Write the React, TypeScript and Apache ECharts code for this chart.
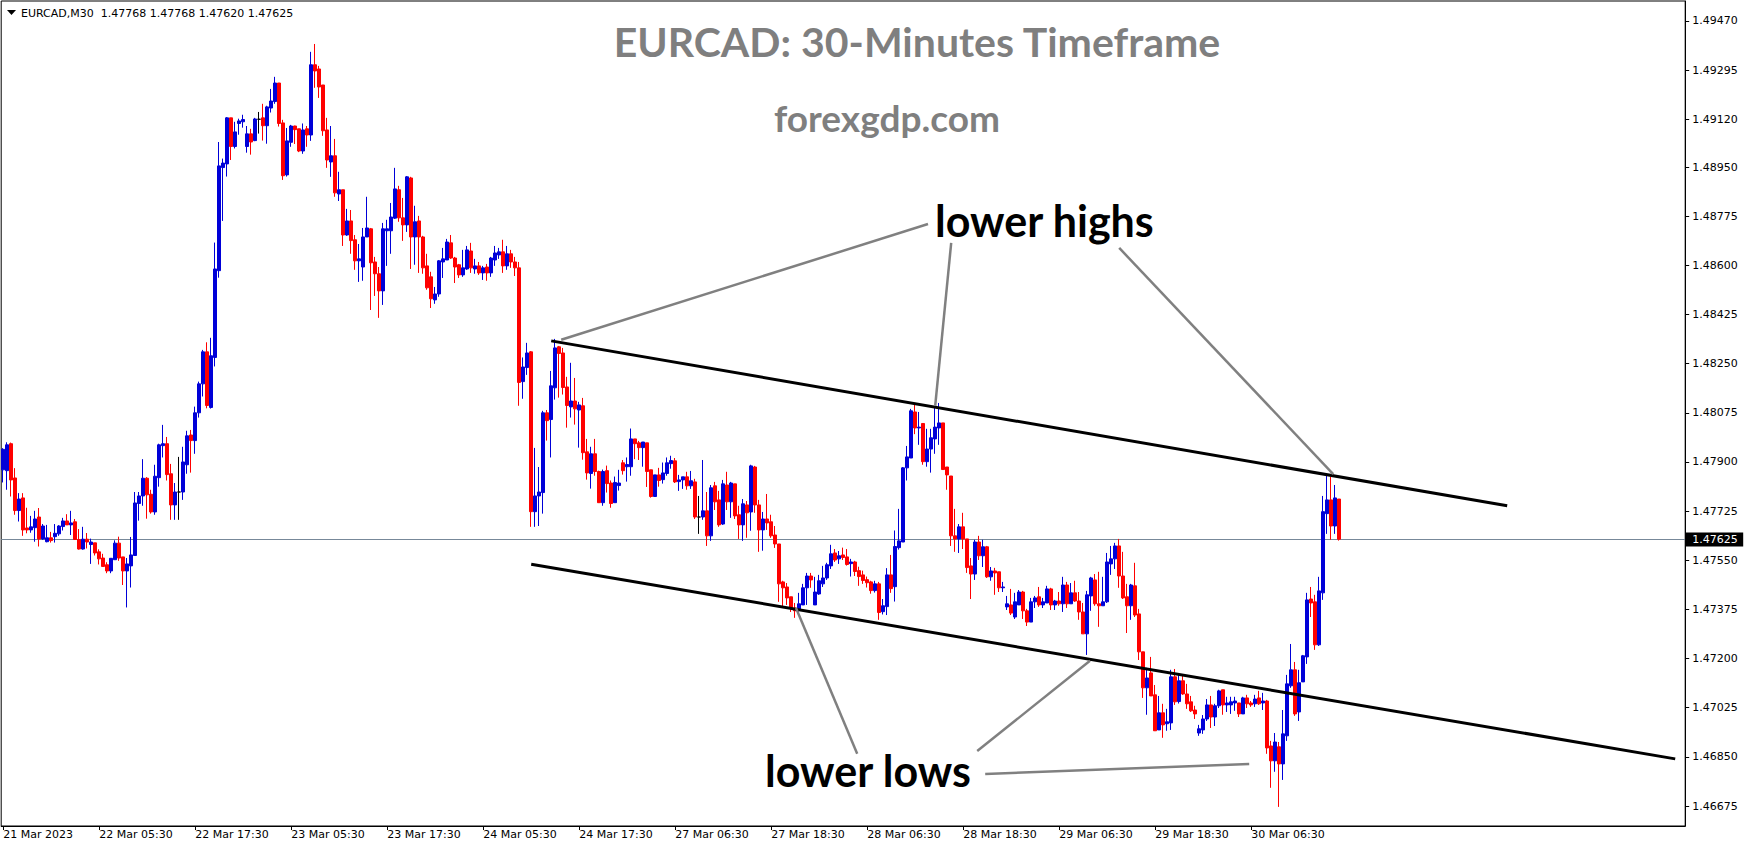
import React, { useEffect, useRef } from "react";
import * as echarts from "echarts";

// ---- data ----
const timeLabels = [
  "21 Mar 2023", "22 Mar 05:30", "22 Mar 17:30", "23 Mar 05:30", "23 Mar 17:30",
  "24 Mar 05:30", "24 Mar 17:30", "27 Mar 06:30", "27 Mar 18:30", "28 Mar 06:30",
  "28 Mar 18:30", "29 Mar 06:30", "29 Mar 18:30", "30 Mar 06:30",
];
const barsPerTimeLabel = 24;
const totalSlots = 421; // visible bar slots incl. empty space on the right

const opens = [
  1.47872,1.47869,1.47965,1.47843,1.47727,1.47772,1.47665,1.47658,1.47666,1.47704,
  1.47626,1.47616,1.47630,1.47634,1.47644,1.47670,1.47690,1.47676,1.47687,1.47624,
  1.47590,1.47625,1.47606,1.47612,1.47580,1.47558,1.47534,1.47512,1.47552,1.47611,
  1.47562,1.47512,1.47530,1.47567,1.47752,1.47779,1.47842,1.47785,1.47722,1.47844,
  1.47958,1.47965,1.47858,1.47747,1.47793,1.47793,1.47890,1.47996,1.47976,1.48075,
  1.48178,1.48292,1.48094,1.48272,1.48581,1.48948,1.48961,1.49125,1.49023,1.49105,
  1.49111,1.49023,1.49068,1.49044,1.49120,1.49125,1.49097,1.49160,1.49183,1.49249,
  1.49107,1.48922,1.49038,1.49096,1.49086,1.49007,1.49086,1.49064,1.49314,1.49299,
  1.49242,1.49082,1.48968,1.48990,1.48854,1.48869,1.48708,1.48758,1.48691,1.48616,
  1.48594,1.48701,1.48730,1.48612,1.48570,1.48509,1.48723,1.48723,1.48768,1.48869,
  1.48769,1.48744,1.48911,1.48701,1.48758,1.48701,1.48598,1.48559,1.48477,1.48498,
  1.48612,1.48619,1.48680,1.48626,1.48602,1.48566,1.48587,1.48651,1.48587,1.48598,
  1.48573,1.48594,1.48573,1.48619,1.48637,1.48648,1.48598,1.48641,1.48612,1.48591,
  1.48186,1.48236,1.48292,1.47723,1.47779,1.47791,1.48075,1.48051,1.48164,1.48310,
  1.48288,1.48167,1.48096,1.48117,1.48085,1.48100,1.47936,1.47859,1.47929,1.47866,
  1.47755,1.47869,1.47825,1.47755,1.47816,1.47897,1.47883,1.47883,1.47982,1.47968,
  1.47951,1.47968,1.47872,1.47777,1.47854,1.47837,1.47859,1.47894,1.47904,1.47830,
  1.47836,1.47847,1.47815,1.47829,1.47704,1.47704,1.47726,1.47637,1.47815,1.47765,
  1.47679,1.47818,1.47758,1.47822,1.47712,1.47676,1.47747,1.47722,1.47882,1.47747,
  1.47658,1.47697,1.47687,1.47640,1.47608,1.47473,1.47455,1.47420,1.47380,1.47373,
  1.47391,1.47452,1.47494,1.47391,1.47430,1.47466,1.47487,1.47530,1.47576,1.47555,
  1.47569,1.47562,1.47538,1.47544,1.47513,1.47498,1.47481,1.47473,1.47442,1.47466,
  1.47367,1.47385,1.47498,1.47456,1.47595,1.47615,1.47879,1.47914,1.48078,1.48021,
  1.48037,1.47901,1.47946,1.47982,1.48021,1.48039,1.47882,1.47850,1.47637,1.47626,
  1.47669,1.47626,1.47530,1.47501,1.47615,1.47566,1.47598,1.47491,1.47512,1.47509,
  1.47452,1.47384,1.47391,1.47348,1.47391,1.47437,1.47370,1.47330,1.47402,1.47420,
  1.47391,1.47398,1.47448,1.47391,1.47405,1.47395,1.47462,1.47395,1.47434,1.47405,
  1.47366,1.47288,1.47423,1.47480,1.47395,1.47388,1.47402,1.47537,1.47555,1.47601,
  1.47494,1.47420,1.47388,1.47459,1.47359,1.47224,1.47096,1.47149,1.47071,1.46946,
  1.47007,1.46968,1.46971,1.47135,1.47047,1.47121,1.47074,1.47046,1.47017,1.46935,
  1.46946,1.46985,1.47035,1.46992,1.47032,1.47089,1.47035,1.47035,1.47042,1.47042,
  1.47003,1.47060,1.47042,1.47039,1.47060,1.47042,1.47049,1.46889,1.46836,1.46886,
  1.46825,1.46925,1.47103,1.47160,1.47010,1.47117,1.47206,1.47412,1.47402,1.47249,
  1.47434,1.47716,1.47765,1.47672,1.47768,
];
const highs = [
  1.47949,1.47970,1.47969,1.47878,1.47789,1.47789,1.47737,1.47708,1.47726,1.47736,
  1.47679,1.47676,1.47651,1.47679,1.47675,1.47701,1.47714,1.47726,1.47697,1.47661,
  1.47669,1.47647,1.47627,1.47612,1.47589,1.47573,1.47543,1.47557,1.47621,1.47634,
  1.47562,1.47558,1.47633,1.47793,1.47793,1.47910,1.47846,1.47801,1.47890,1.47965,
  1.48032,1.47989,1.47893,1.47825,1.47918,1.47954,1.48011,1.48014,1.48097,1.48186,
  1.48299,1.48326,1.48342,1.48681,1.49039,1.48980,1.49128,1.49125,1.49111,1.49122,
  1.49136,1.49096,1.49086,1.49125,1.49146,1.49175,1.49168,1.49228,1.49271,1.49249,
  1.49118,1.49089,1.49100,1.49097,1.49086,1.49105,1.49096,1.49360,1.49388,1.49310,
  1.49242,1.49125,1.49096,1.49050,1.48933,1.48869,1.48801,1.48797,1.48708,1.48676,
  1.48733,1.48844,1.48733,1.48630,1.48594,1.48751,1.48762,1.48822,1.48947,1.48883,
  1.48840,1.48918,1.48915,1.48812,1.48776,1.48705,1.48641,1.48577,1.48523,1.48619,
  1.48662,1.48694,1.48708,1.48630,1.48605,1.48655,1.48669,1.48680,1.48623,1.48612,
  1.48598,1.48605,1.48630,1.48669,1.48662,1.48691,1.48669,1.48655,1.48630,1.48612,
  1.48272,1.48324,1.48295,1.47950,1.47882,1.48082,1.48085,1.48224,1.48338,1.48313,
  1.48306,1.48203,1.48253,1.48199,1.48114,1.48128,1.47982,1.47954,1.47982,1.47869,
  1.47873,1.47887,1.47834,1.47848,1.47872,1.47907,1.47916,1.48019,1.47982,1.47975,
  1.47971,1.47968,1.47872,1.47854,1.47879,1.47898,1.47916,1.47922,1.47914,1.47854,
  1.47847,1.47865,1.47868,1.47840,1.47779,1.47907,1.47793,1.47818,1.47829,1.47797,
  1.47836,1.47865,1.47829,1.47822,1.47744,1.47768,1.47761,1.47890,1.47886,1.47765,
  1.47722,1.47786,1.47712,1.47672,1.47608,1.47477,1.47469,1.47420,1.47398,1.47434,
  1.47466,1.47505,1.47505,1.47491,1.47498,1.47530,1.47541,1.47605,1.47590,1.47583,
  1.47595,1.47590,1.47555,1.47548,1.47527,1.47513,1.47492,1.47477,1.47477,1.47473,
  1.47412,1.47522,1.47569,1.47656,1.47733,1.47882,1.47957,1.48089,1.48103,1.48078,
  1.48037,1.48018,1.48018,1.48096,1.48110,1.48039,1.47882,1.47850,1.47733,1.47679,
  1.47719,1.47626,1.47558,1.47623,1.47637,1.47623,1.47601,1.47526,1.47523,1.47509,
  1.47473,1.47423,1.47448,1.47434,1.47444,1.47441,1.47377,1.47416,1.47423,1.47455,
  1.47416,1.47459,1.47452,1.47409,1.47437,1.47491,1.47473,1.47469,1.47477,1.47437,
  1.47398,1.47441,1.47491,1.47501,1.47509,1.47491,1.47576,1.47601,1.47612,1.47626,
  1.47580,1.47466,1.47466,1.47541,1.47377,1.47224,1.47167,1.47206,1.47106,1.47067,
  1.47039,1.47021,1.47160,1.47163,1.47142,1.47138,1.47110,1.47067,1.47032,1.46964,
  1.46999,1.47056,1.47067,1.47039,1.47089,1.47089,1.47064,1.47064,1.47064,1.47042,
  1.47064,1.47071,1.47049,1.47071,1.47085,1.47078,1.47053,1.46907,1.46935,1.46903,
  1.47017,1.47142,1.47252,1.47188,1.47160,1.47213,1.47434,1.47455,1.47427,1.47491,
  1.47779,1.47850,1.47847,1.47818,1.47768,
];
const lows = [
  1.47827,1.47801,1.47777,1.47712,1.47688,1.47637,1.47646,1.47648,1.47616,1.47599,
  1.47623,1.47614,1.47613,1.47613,1.47637,1.47656,1.47676,1.47640,1.47623,1.47588,
  1.47588,1.47592,1.47537,1.47567,1.47535,1.47528,1.47504,1.47504,1.47552,1.47548,
  1.47462,1.47382,1.47453,1.47567,1.47691,1.47744,1.47698,1.47716,1.47712,1.47812,
  1.47916,1.47834,1.47694,1.47694,1.47694,1.47765,1.47858,1.47862,1.47929,1.48058,
  1.48133,1.48091,1.48090,1.48240,1.48556,1.48758,1.48916,1.48975,1.49016,1.49065,
  1.49090,1.49001,1.48994,1.49042,1.49069,1.49044,1.49033,1.49144,1.49175,1.49094,
  1.48904,1.48916,1.49022,1.49032,1.49003,1.48997,1.49022,1.49043,1.49232,1.49196,
  1.49061,1.48947,1.48915,1.48844,1.48829,1.48669,1.48705,1.48641,1.48584,1.48541,
  1.48545,1.48701,1.48441,1.48491,1.48413,1.48459,1.48598,1.48641,1.48765,1.48755,
  1.48687,1.48719,1.48587,1.48602,1.48573,1.48570,1.48513,1.48448,1.48463,1.48488,
  1.48555,1.48619,1.48623,1.48537,1.48555,1.48559,1.48584,1.48573,1.48570,1.48566,
  1.48548,1.48545,1.48559,1.48598,1.48623,1.48573,1.48584,1.48591,1.48562,1.48100,
  1.48125,1.48210,1.47669,1.47669,1.47672,1.47716,1.47976,1.47916,1.48122,1.48129,
  1.48140,1.48022,1.48058,1.48033,1.47951,1.47908,1.47837,1.47805,1.47851,1.47755,
  1.47744,1.47791,1.47737,1.47755,1.47798,1.47855,1.47830,1.47851,1.47910,1.47907,
  1.47883,1.47811,1.47773,1.47777,1.47812,1.47823,1.47851,1.47876,1.47825,1.47797,
  1.47804,1.47801,1.47804,1.47697,1.47644,1.47694,1.47601,1.47619,1.47729,1.47669,
  1.47676,1.47729,1.47701,1.47697,1.47626,1.47619,1.47630,1.47655,1.47719,1.47580,
  1.47584,1.47658,1.47630,1.47594,1.47402,1.47384,1.47391,1.47366,1.47345,1.47355,
  1.47391,1.47391,1.47452,1.47391,1.47427,1.47455,1.47480,1.47519,1.47544,1.47537,
  1.47551,1.47531,1.47492,1.47494,1.47459,1.47466,1.47453,1.47431,1.47435,1.47338,
  1.47357,1.47355,1.47434,1.47403,1.47588,1.47615,1.47834,1.47914,1.47999,1.47961,
  1.47890,1.47883,1.47862,1.47929,1.47961,1.47872,1.47801,1.47601,1.47580,1.47576,
  1.47590,1.47505,1.47412,1.47480,1.47551,1.47526,1.47487,1.47477,1.47427,1.47437,
  1.47437,1.47373,1.47355,1.47341,1.47391,1.47341,1.47316,1.47330,1.47380,1.47384,
  1.47380,1.47398,1.47373,1.47373,1.47388,1.47366,1.47380,1.47395,1.47402,1.47338,
  1.47288,1.47213,1.47370,1.47388,1.47313,1.47388,1.47398,1.47498,1.47519,1.47452,
  1.47412,1.47291,1.47338,1.47348,1.47195,1.47060,1.47000,1.47067,1.46943,1.46946,
  1.46918,1.46943,1.46946,1.47035,1.47040,1.47071,1.47021,1.47010,1.46985,1.46925,
  1.46932,1.46978,1.46953,1.46960,1.47024,1.47000,1.47010,1.47003,1.47014,1.46992,
  1.47003,1.47024,1.47028,1.47028,1.47035,1.47017,1.46861,1.46740,1.46797,1.46672,
  1.46768,1.46907,1.47096,1.46996,1.46978,1.47117,1.47181,1.47348,1.47231,1.47245,
  1.47409,1.47644,1.47623,1.47644,1.47620,
];
const closes = [
  1.47945,1.47961,1.47836,1.47727,1.47768,1.47658,1.47658,1.47669,1.47697,1.47626,
  1.47672,1.47630,1.47620,1.47646,1.47672,1.47690,1.47676,1.47683,1.47624,1.47590,
  1.47625,1.47615,1.47615,1.47576,1.47555,1.47528,1.47512,1.47557,1.47611,1.47558,
  1.47512,1.47537,1.47569,1.47754,1.47779,1.47842,1.47783,1.47722,1.47849,1.47961,
  1.47965,1.47855,1.47747,1.47793,1.47793,1.47900,1.47993,1.47976,1.48075,1.48178,
  1.48292,1.48101,1.48278,1.48587,1.48954,1.48964,1.49125,1.49023,1.49075,1.49114,
  1.49119,1.49068,1.49039,1.49121,1.49120,1.49097,1.49164,1.49185,1.49249,1.49105,
  1.48919,1.49043,1.49096,1.49083,1.49007,1.49082,1.49064,1.49314,1.49292,1.49235,
  1.49079,1.48975,1.48990,1.48858,1.48869,1.48708,1.48758,1.48688,1.48616,1.48623,
  1.48701,1.48733,1.48609,1.48570,1.48509,1.48730,1.48730,1.48772,1.48872,1.48769,
  1.48744,1.48915,1.48701,1.48755,1.48701,1.48591,1.48520,1.48481,1.48498,1.48616,
  1.48623,1.48683,1.48626,1.48594,1.48566,1.48591,1.48655,1.48591,1.48598,1.48573,
  1.48591,1.48573,1.48626,1.48644,1.48648,1.48598,1.48641,1.48612,1.48591,1.48183,
  1.48238,1.48288,1.47723,1.47779,1.47793,1.48075,1.48047,1.48171,1.48306,1.48286,
  1.48165,1.48101,1.48117,1.48089,1.48103,1.47933,1.47861,1.47929,1.47866,1.47755,
  1.47866,1.47823,1.47752,1.47827,1.47825,1.47869,1.47891,1.47982,1.47965,1.47951,
  1.47971,1.47866,1.47777,1.47854,1.47834,1.47861,1.47897,1.47905,1.47829,1.47836,
  1.47847,1.47815,1.47833,1.47704,1.47704,1.47726,1.47637,1.47808,1.47758,1.47676,
  1.47822,1.47758,1.47825,1.47708,1.47676,1.47751,1.47719,1.47886,1.47747,1.47658,
  1.47697,1.47683,1.47637,1.47608,1.47466,1.47452,1.47416,1.47380,1.47370,1.47395,
  1.47452,1.47494,1.47480,1.47437,1.47477,1.47487,1.47534,1.47573,1.47551,1.47566,
  1.47560,1.47535,1.47544,1.47510,1.47492,1.47478,1.47470,1.47442,1.47466,1.47364,
  1.47388,1.47498,1.47449,1.47599,1.47619,1.47879,1.47918,1.48082,1.48021,1.48024,
  1.47901,1.47946,1.47986,1.48024,1.48039,1.47873,1.47854,1.47637,1.47626,1.47669,
  1.47626,1.47524,1.47501,1.47615,1.47566,1.47598,1.47491,1.47512,1.47505,1.47452,
  1.47455,1.47395,1.47362,1.47402,1.47437,1.47370,1.47330,1.47402,1.47416,1.47391,
  1.47402,1.47448,1.47391,1.47405,1.47395,1.47462,1.47395,1.47434,1.47405,1.47366,
  1.47288,1.47427,1.47487,1.47395,1.47388,1.47402,1.47544,1.47555,1.47601,1.47494,
  1.47416,1.47388,1.47462,1.47355,1.47224,1.47096,1.47131,1.47067,1.46943,1.47007,
  1.46964,1.46975,1.47135,1.47046,1.47121,1.47074,1.47039,1.47014,1.47003,1.46950,
  1.46985,1.47035,1.46992,1.47032,1.47085,1.47035,1.47042,1.47046,1.47049,1.47003,
  1.47060,1.47039,1.47035,1.47056,1.47039,1.47049,1.46882,1.46836,1.46903,1.46825,
  1.46932,1.47110,1.47160,1.47003,1.47114,1.47210,1.47409,1.47398,1.47249,1.47441,
  1.47723,1.47765,1.47672,1.47772,1.47625,
];

const priceTicks = [
  1.46675, 1.46850, 1.47025, 1.47200, 1.47375, 1.47550, 1.47725, 1.47900, 1.48075,
  1.48250, 1.48425, 1.48600, 1.48775, 1.48950, 1.49120, 1.49295, 1.49470,
];
const priceMin = 1.46604;
const priceMax = 1.49541;
const lastPrice = 1.47625;

const headerText = "EURCAD,M30  1.47768 1.47768 1.47620 1.47625";
const titleText = "EURCAD: 30-Minutes Timeframe";
const siteText = "forexgdp.com";
const highsText = "lower highs";
const lowsText = "lower lows";

// drawn lines, in (bar slot, price)
const channelTop = [[137, 1.48331], [376, 1.47744]];
const channelBottom = [[132, 1.47536], [418, 1.46843]];
const highPointers = [
  [[139.5, 1.48335], [231.2, 1.48747]],
  [[233.0, 1.48100], [237.0, 1.48680]],
  [[332.5, 1.47857], [279.0, 1.48662]],
];
const lowPointers = [
  [[198.2, 1.47380], [213.5, 1.46861]],
  [[271.7, 1.47192], [243.5, 1.46871]],
  [[311.5, 1.46825], [245.5, 1.46789]],
];

const BLUE = "#0000d8";
const RED = "#ff0000";
const MT_FONT = "DejaVu Sans";

export default function App() {
  const ref = useRef<HTMLDivElement>(null);

  useEffect(() => {
    const el = ref.current;
    if (!el) return;
    const chart = echarts.init(el, null, { renderer: "svg" });

    const slots = Array.from({ length: totalSlots }, (_, i) => String(i));
    const candles = opens.map((o, i) => {
      const v = [o, closes[i], lows[i], highs[i]];
      if (o === closes[i]) {
        return {
          value: v,
          itemStyle: { color: "#000", color0: "#000", borderColor: "#000", borderColor0: "#000" },
        };
      }
      return v;
    });
    const labelAt = (i: number) =>
      i % barsPerTimeLabel === 0 && i / barsPerTimeLabel < timeLabels.length;

    chart.setOption({
      animation: false,
      backgroundColor: "#ffffff",
      grid: {
        left: 1.2, right: 63.8, top: 1, bottom: 24,
        show: true, borderColor: "#000", borderWidth: 1, backgroundColor: "transparent",
        containLabel: false,
      },
      xAxis: {
        type: "category",
        data: slots,
        boundaryGap: true,
        axisLine: { show: true, lineStyle: { color: "#000", width: 1 } },
        axisTick: {
          show: true, alignWithLabel: true, length: 4,
          interval: (i: number) => labelAt(i),
          lineStyle: { color: "#000" },
        },
        axisLabel: {
          show: true,
          interval: (i: number) => labelAt(i),
          formatter: (_v: string, i: number) => timeLabels[i / barsPerTimeLabel] ?? "",
          align: "left",
          margin: 3,
          color: "#000",
          fontFamily: MT_FONT,
          fontSize: 11,
        },
        splitLine: { show: false },
      },
      yAxis: {
        type: "value",
        position: "right",
        min: priceMin,
        max: priceMax,
        scale: true,
        axisLine: { show: true, lineStyle: { color: "#000", width: 1 } },
        axisTick: { show: true, customValues: priceTicks, length: 4, lineStyle: { color: "#000" } },
        axisLabel: {
          show: true,
          customValues: priceTicks,
          formatter: (v: number) => v.toFixed(5),
          margin: 7,
          color: "#000",
          fontFamily: MT_FONT,
          fontSize: 11,
        },
        splitLine: { show: false },
      },
      series: [
        {
          type: "candlestick",
          data: candles,
          barWidth: 3,
          z: 5,
          itemStyle: {
            color: BLUE, color0: RED, borderColor: BLUE, borderColor0: RED, borderWidth: 1,
          },
        },
      ],
    });

    const finder = { xAxisIndex: 0, yAxisIndex: 0 };
    const toPx = (pt: number[]) => {
      const i0 = Math.floor(pt[0]);
      const a = chart.convertToPixel(finder, [i0, pt[1]]) as number[];
      const b = chart.convertToPixel(finder, [i0 + 1, pt[1]]) as number[];
      return [a[0] + (b[0] - a[0]) * (pt[0] - i0), a[1]];
    };
    const seg = (pts: number[][], color: string, w: number) => {
      const p = toPx(pts[0]);
      const q = toPx(pts[1]);
      return {
        type: "line",
        z: 100,
        shape: { x1: p[0], y1: p[1], x2: q[0], y2: q[1] },
        style: { stroke: color, lineWidth: w, lineCap: "butt" },
        silent: true,
      };
    };
    const txt = (text: string, x: number, y: number, size: number, color: string, align: string, family: string, weight: string) => ({
      type: "text",
      z: 110,
      x, y,
      silent: true,
      style: {
        text, fill: color, fontSize: size, fontFamily: family, fontWeight: weight,
        textAlign: align, textVerticalAlign: "middle", verticalAlign: "middle",
      },
    });

    const py = Math.round(toPx([0, lastPrice])[1]) + 0.5;
    const leftEdge = (chart.convertToPixel(finder, [0, lastPrice]) as number[])[0] - 2;
    const rightEdge = (chart.convertToPixel(finder, [totalSlots - 1, lastPrice]) as number[])[0] + 2;

    const elements: any[] = [
      {
        type: "line", z: 1, silent: true,
        shape: { x1: leftEdge, y1: py, x2: rightEdge, y2: py },
        style: { stroke: "#778899", lineWidth: 1 },
      },
      seg(channelTop, "#000", 3),
      seg(channelBottom, "#000", 3),
      ...highPointers.map((p) => seg(p, "#808080", 2.5)),
      ...lowPointers.map((p) => seg(p, "#808080", 2.5)),
      txt(titleText, 917, 41, 41, "#7f7f7f", "center", "Lato", "bold"),
      txt(siteText, 887, 117, 37, "#7f7f7f", "center", "Lato", "bold"),
      txt(highsText, 935, 220, 43, "#000", "left", "Lato", "bold"),
      txt(lowsText, 765, 770, 43, "#000", "left", "Lato", "bold"),
      {
        type: "polygon", z: 110, silent: true,
        shape: { points: [[7, 10], [16, 10], [11.5, 15]] },
        style: { fill: "#000" },
      },
      txt(headerText, 21, 13, 11, "#000", "left", MT_FONT, "normal"),
      {
        type: "rect", z: 110, silent: true,
        shape: { x: rightEdge, y: py - 7, width: 58, height: 14 },
        style: { fill: "#000" },
      },
      txt(lastPrice.toFixed(5), rightEdge + 7, py, 11, "#fff", "left", MT_FONT, "normal"),
    ];
    chart.setOption({ graphic: { elements } });

    return () => {
      chart.dispose();
    };
  }, []);

  return (
    <div
      ref={ref}
      style={{ position: "absolute", left: 0, top: 0, width: 1749, height: 850 }}
    />
  );
}
